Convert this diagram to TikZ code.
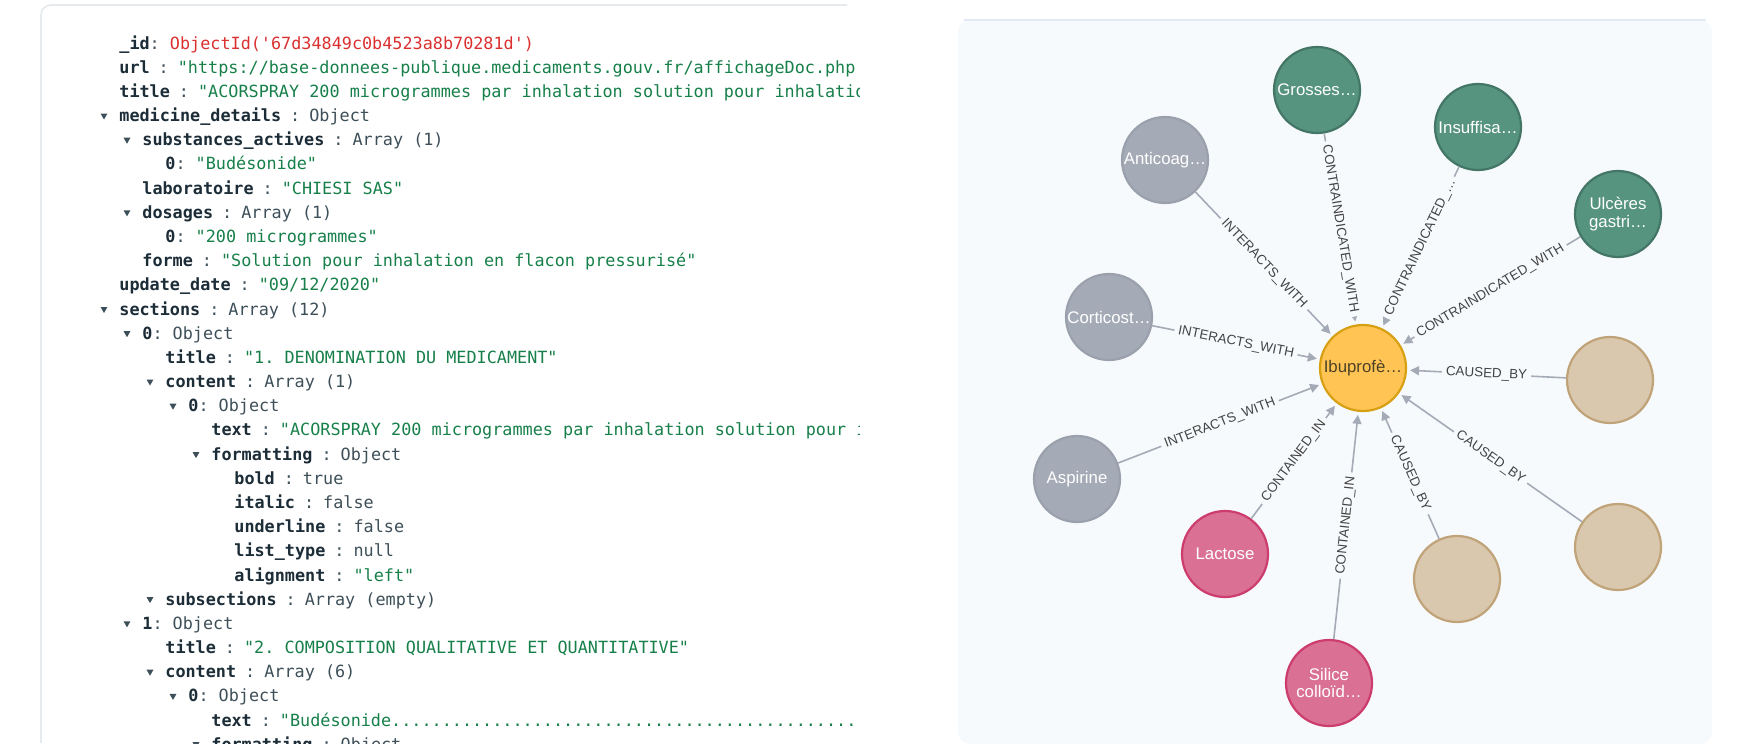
\documentclass[tikz,border=0pt]{standalone}
\usepackage{fontspec}
\setmainfont{Liberation Sans}
\setmonofont{DejaVu Sans Mono}
\usetikzlibrary{arrows.meta,shapes.geometric}

\definecolor{keycol}{HTML}{1C2D38}
\definecolor{valcol}{HTML}{3D4F58}
\definecolor{strcol}{HTML}{17804A}
\definecolor{oidcol}{HTML}{DB3030}
\definecolor{framecol}{HTML}{E6EAEC}
\definecolor{panelbg}{HTML}{F7FAFD}
\definecolor{panelline}{HTML}{E2EBF5}
\definecolor{relcol}{HTML}{A5ABB6}
\definecolor{labelcol}{HTML}{444444}
\definecolor{drugfill}{HTML}{A5ABB6}
\definecolor{drugline}{HTML}{9AA1AC}
\definecolor{condfill}{HTML}{569480}
\definecolor{condline}{HTML}{447666}
\definecolor{effectfill}{HTML}{D9C8AE}
\definecolor{effectline}{HTML}{C0A378}
\definecolor{excipfill}{HTML}{DA7194}
\definecolor{excipline}{HTML}{CC3C6C}
\definecolor{centrefill}{HTML}{FFC454}
\definecolor{centreline}{HTML}{D7A013}
\definecolor{centretext}{HTML}{4E4226}

\newcommand{\jkey}[1]{{\bfseries\color{keycol}#1}}
\newcommand{\jval}[1]{{\color{valcol}#1}}
\newcommand{\jstr}[1]{{\color{strcol}#1}}
\newcommand{\joid}[1]{{\color{oidcol}#1}}
\newcommand{\jsep}{\jval{\kern4.5pt:\kern4.5pt}}

\tikzset{
  json/.style={anchor=base west, inner sep=0, font=\ttfamily\fontsize{8.4}{10}\selectfont},
  caret/.style={regular polygon, regular polygon sides=3, shape border rotate=180,
    fill=valcol, inner sep=0, minimum size=4pt},
  gnode/.style={circle, minimum size=43pt, inner sep=0, line width=1.1pt, align=center,
    text=white, font=\fontsize{8.4}{8.6}\selectfont},
  centre/.style={gnode, fill=centrefill, draw=centreline, text=centretext},
  drug/.style={gnode, fill=drugfill, draw=drugline},
  cond/.style={gnode, fill=condfill, draw=condline},
  effect/.style={gnode, fill=effectfill, draw=effectline},
  excip/.style={gnode, fill=excipfill, draw=excipline},
  rel/.style={draw=relcol, line width=0.8pt, -{Triangle[length=4.5pt,width=4.5pt]}, shorten >=1.5pt},
  rlabel/.style={midway, sloped, fill=panelbg, inner xsep=2pt, inner ysep=0.5pt,
    text=labelcol, font=\fontsize{6.7}{7}\selectfont}
}

\begin{document}
\begin{tikzpicture}[x=0.5pt, y=-0.5pt]
  \useasboundingbox (0,0) rectangle (1754,755);
  \fill[white] (0,0) rectangle (1754,755);

  % document panel frame
  \draw[framecol, line width=0.8pt, rounded corners=5pt] (41,743) -- (41,5) -- (847,5);

  \begin{scope}
    \clip (41,5) rectangle (859,743);

    % expand carets
    \node (c3) at (104,115.5) [caret] {};
    \node (c4) at (127,139.7) [caret] {};
    \node (c7) at (127,212.3) [caret] {};
    \node (c11) at (104,309.0) [caret] {};
    \node (c12) at (127,333.2) [caret] {};
    \node (c14) at (150,381.5) [caret] {};
    \node (c15) at (173,405.7) [caret] {};
    \node (c17) at (196,454.1) [caret] {};
    \node (c23) at (150,599.1) [caret] {};
    \node (c24) at (127,623.3) [caret] {};
    \node (c26) at (150,671.7) [caret] {};
    \node (c27) at (173,695.9) [caret] {};
    \node (c29) at (196,744.2) [caret] {};

    % field rows
    \node (r0) at (119,49.0) [json] {\jkey{\_id}\jval{:\ }\joid{ObjectId('67d34849c0b4523a8b70281d')}};
    \node (r1) at (119,73.2) [json] {\jkey{url}\jsep\jstr{"https://base-donnees-publique.medicaments.gouv.fr/affichageDoc.php}};
    \node (r2) at (119,97.4) [json] {\jkey{title}\jsep\jstr{"ACORSPRAY 200 microgrammes par inhalation solution pour inhalation}};
    \node (r3) at (119,121.5) [json] {\jkey{medicine\_details}\jsep\jval{Object}};
    \node (r4) at (142,145.7) [json] {\jkey{substances\_actives}\jsep\jval{Array (1)}};
    \node (r5) at (165,169.9) [json] {\jkey{0}\jval{:\ }\jstr{"Budésonide"}};
    \node (r6) at (142,194.1) [json] {\jkey{laboratoire}\jsep\jstr{"CHIESI SAS"}};
    \node (r7) at (142,218.3) [json] {\jkey{dosages}\jsep\jval{Array (1)}};
    \node (r8) at (165,242.4) [json] {\jkey{0}\jval{:\ }\jstr{"200 microgrammes"}};
    \node (r9) at (142,266.6) [json] {\jkey{forme}\jsep\jstr{"Solution pour inhalation en flacon pressurisé"}};
    \node (r10) at (119,290.8) [json] {\jkey{update\_date}\jsep\jstr{"09/12/2020"}};
    \node (r11) at (119,315.0) [json] {\jkey{sections}\jsep\jval{Array (12)}};
    \node (r12) at (142,339.2) [json] {\jkey{0}\jval{:\ Object}};
    \node (r13) at (165,363.3) [json] {\jkey{title}\jsep\jstr{"1. DENOMINATION DU MEDICAMENT"}};
    \node (r14) at (165,387.5) [json] {\jkey{content}\jsep\jval{Array (1)}};
    \node (r15) at (188,411.7) [json] {\jkey{0}\jval{:\ Object}};
    \node (r16) at (211,435.9) [json] {\jkey{text}\jsep\jstr{"ACORSPRAY 200 microgrammes par inhalation solution pour inhalation}};
    \node (r17) at (211,460.1) [json] {\jkey{formatting}\jsep\jval{Object}};
    \node (r18) at (234,484.2) [json] {\jkey{bold}\jsep\jval{true}};
    \node (r19) at (234,508.4) [json] {\jkey{italic}\jsep\jval{false}};
    \node (r20) at (234,532.6) [json] {\jkey{underline}\jsep\jval{false}};
    \node (r21) at (234,556.8) [json] {\jkey{list\_type}\jsep\jval{null}};
    \node (r22) at (234,581.0) [json] {\jkey{alignment}\jsep\jstr{"left"}};
    \node (r23) at (165,605.1) [json] {\jkey{subsections}\jsep\jval{Array (empty)}};
    \node (r24) at (142,629.3) [json] {\jkey{1}\jval{:\ Object}};
    \node (r25) at (165,653.5) [json] {\jkey{title}\jsep\jstr{"2. COMPOSITION QUALITATIVE ET QUANTITATIVE"}};
    \node (r26) at (165,677.7) [json] {\jkey{content}\jsep\jval{Array (6)}};
    \node (r27) at (188,701.9) [json] {\jkey{0}\jval{:\ Object}};
    \node (r28) at (211,726.0) [json] {\jkey{text}\jsep\jstr{"Budésonide............................................................}};
    \node (r29) at (211,750.2) [json] {\jkey{formatting}\jsep\jval{Object}};
  \end{scope}

  % graph panel
  \fill[panelbg, rounded corners=6pt] (958,20) rectangle (1712,744);
  \draw[panelline, line width=0.8pt] (964,20) -- (1706,20);

  % centre node
  \node (ibu) at (1363,368) [centre] {Ibuprofè…};

  % interactions
  \node (anticoag) at (1165,160) [drug] {Anticoag…};
  \node (cortico) at (1109,317) [drug] {Corticost…};
  \node (aspirine) at (1077,479) [drug] {Aspirine};

  % contraindications
  \node (grosses) at (1317,90) [cond] {Grosses…};
  \node (insuff) at (1478,127) [cond] {Insuffisa…};
  \node (ulceres) at (1618,214) [cond] {Ulcères\\gastri…};

  % side effects
  \node (effet1) at (1610,380) [effect] {};
  \node (effet2) at (1618,547) [effect] {};
  \node (effet3) at (1457,579) [effect] {};

  % excipients
  \node (lactose) at (1225,554) [excip] {Lactose};
  \node (silice) at (1329,683) [excip] {Silice\\colloïd…};

  % relations
  \draw[rel] (anticoag) -- node[rlabel] {INTERACTS\_WITH} (ibu);
  \draw[rel] (cortico) -- node[rlabel] {INTERACTS\_WITH} (ibu);
  \draw[rel] (aspirine) -- node[rlabel] {INTERACTS\_WITH} (ibu);
  \draw[rel] (grosses) -- node[rlabel] {CONTRAINDICATED\_WITH} (ibu);
  \draw[rel] (insuff) -- node[rlabel] {CONTRAINDICATED\_…} (ibu);
  \draw[rel] (ulceres) -- node[rlabel] {CONTRAINDICATED\_WITH} (ibu);
  \draw[rel] (effet1) -- node[rlabel] {CAUSED\_BY} (ibu);
  \draw[rel] (effet2) -- node[rlabel] {CAUSED\_BY} (ibu);
  \draw[rel] (effet3) -- node[rlabel] {CAUSED\_BY} (ibu);
  \draw[rel] (lactose) -- node[rlabel] {CONTAINED\_IN} (ibu);
  \draw[rel] (silice) -- node[rlabel] {CONTAINED\_IN} (ibu);
\end{tikzpicture}
\end{document}
